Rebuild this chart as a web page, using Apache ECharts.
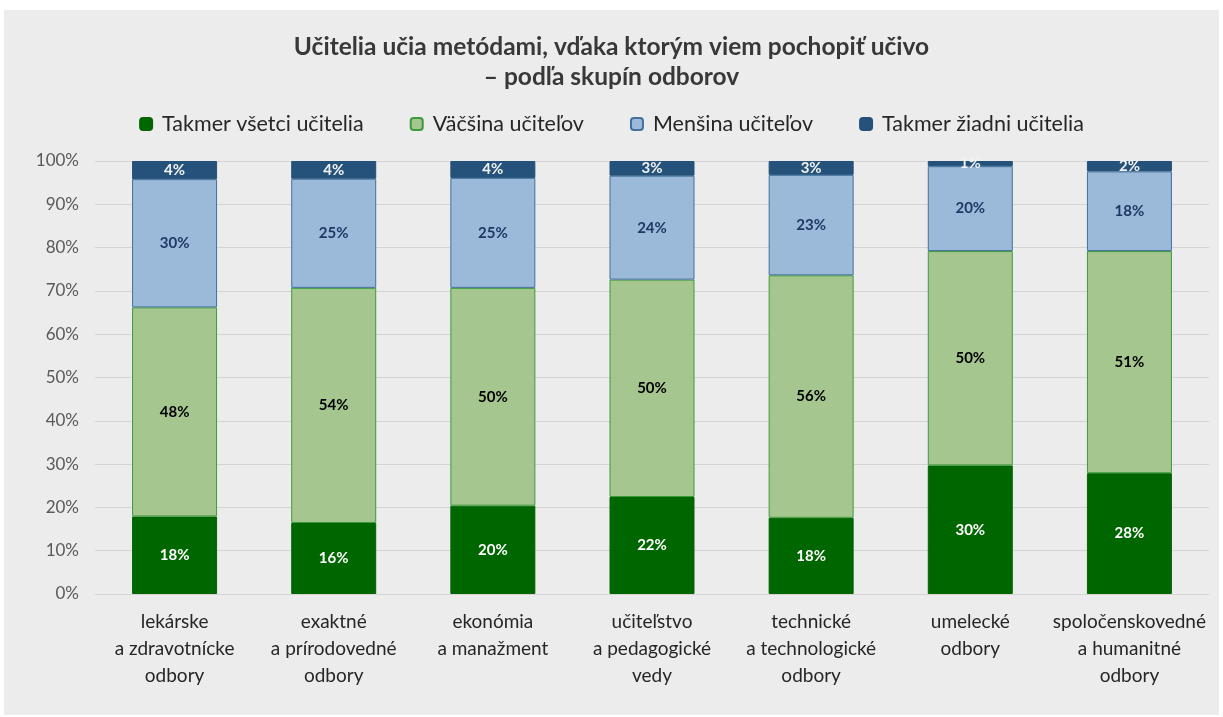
<!DOCTYPE html>
<html>
<head>
<meta charset="utf-8">
<script src="https://cdn.jsdelivr.net/npm/echarts@6/dist/echarts.min.js"></script>
<style>
  html, body { margin: 0; padding: 0; background: #ffffff; }
  #myChart { position: absolute; left: 4px; top: 10px; width: 1215px; height: 705px; background: #ececec; }
</style>
</head>
<body>
<div id="myChart"></div>
<script>
// kategórie (skupiny odborov)
var categories = [
  'lekárske\na zdravotnícke\nodbory',
  'exaktné\na prírodovedné\nodbory',
  'ekonómia\na manažment',
  'učiteľstvo\na pedagogické\nvedy',
  'technické\na technologické\nodbory',
  'umelecké\nodbory',
  'spoločenskovedné\na humanitné\nodbory'
];
var seriesNames = ['Takmer všetci učitelia', 'Väčšina učiteľov', 'Menšina učiteľov', 'Takmer žiadni učitelia'];
// hodnoty v %
var vsetci  = [17.9, 16.4, 20.4, 22.4, 17.6, 29.7, 27.9];
var vacsina = [48.3, 54.3, 50.3, 50.2, 56.0, 49.5, 51.3];
var mensina = [29.6, 25.2, 25.4, 24.0, 23.2, 19.6, 18.4];
var ziadni  = [4.2, 4.1, 3.9, 3.4, 3.2, 1.2, 2.4];
var yTicks = [0, 10, 20, 30, 40, 50, 60, 70, 80, 90, 100];

var FONT = 'Lato, "Open Sans", sans-serif';
var myChart = echarts.init(document.getElementById('myChart'));

function bar(name, data, color, border, labelColor) {
  return {
    name: name,
    type: 'bar',
    stack: 'all',
    barWidth: 85,
    data: data,
    itemStyle: { color: color, borderColor: border, borderWidth: 1 },
    label: {
      show: true,
      position: 'inside',
      color: labelColor,
      fontFamily: FONT,
      fontWeight: 'bold',
      fontSize: 15,
      formatter: function (p) { return Math.round(p.value) + '%'; }
    }
  };
}

var titleStyle = { fontFamily: FONT, fontSize: 24.5, fontWeight: 'bold', color: '#383838' };

var option = {
  animation: false,
  title: [
    { text: 'Učitelia učia metódami, vďaka ktorým viem pochopiť učivo', left: 'center', top: 20, textStyle: titleStyle },
    { text: '– podľa skupín odborov', left: 'center', top: 50, textStyle: titleStyle }
  ],
  legend: {
    data: seriesNames,
    top: 98,
    left: 'center',
    itemWidth: 12,
    itemHeight: 12,
    itemGap: 46,
    textStyle: { fontFamily: FONT, fontSize: 21.5, color: '#262626', padding: [0, 0, 0, 5] }
  },
  grid: { left: 91, right: 10, top: 151, bottom: 121 },
  xAxis: {
    type: 'category',
    data: categories,
    axisLine: { show: false },
    axisTick: { show: false },
    axisLabel: { fontFamily: FONT, fontSize: 19, color: '#262626', lineHeight: 27, margin: 14, interval: 0 }
  },
  yAxis: {
    type: 'value',
    min: yTicks[0],
    max: yTicks[yTicks.length - 1],
    interval: 10,
    axisLine: { show: false },
    axisTick: { show: false },
    axisLabel: { fontFamily: FONT, fontSize: 17, color: '#595959', margin: 16, formatter: '{value}%' },
    splitLine: { lineStyle: { color: '#d4d4d4', width: 1 } }
  },
  series: [
    bar(seriesNames[0], vsetci, '#006600', '#006600', '#ffffff'),
    bar(seriesNames[1], vacsina, '#a5c68e', '#3d9a3d', '#000000'),
    bar(seriesNames[2], mensina, '#9bb9d8', '#41719c', '#1f3864'),
    bar(seriesNames[3], ziadni, '#24527a', '#24527a', '#f2f2f2')
  ]
};
myChart.setOption(option);
</script>
</body>
</html>
